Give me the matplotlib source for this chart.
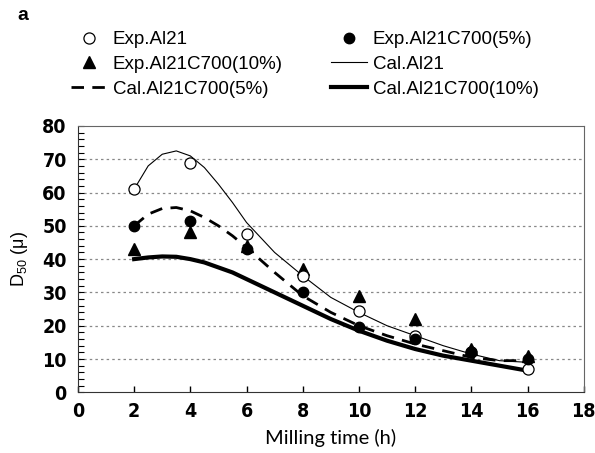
import matplotlib
matplotlib.use("Agg")
import matplotlib.pyplot as plt
from matplotlib.ticker import MultipleLocator

# measured points (milling time in h, D50 in micron)
exp_time = [2, 4, 6, 8, 10, 12, 14, 16]
exp_al21 = [61, 69, 47.5, 35, 24.5, 17, 12, 7]
exp_c700_5 = [50, 51.5, 43, 30, 19.5, 16, 12, 10]
exp_c700_10 = [43, 48, 44, 37, 29, 22, 13, 11]

# calculated curves
cal_time = [2, 2.5, 3, 3.5, 4, 4.5, 5, 5.5, 6, 7, 8, 9, 10, 11, 12, 13, 14, 15, 16]
cal_al21 = [61, 68, 71.5, 72.5, 71, 67.5, 62.5, 57, 51, 42, 35, 28.5, 24, 20, 17, 14, 11.5, 9.5, 9]
cal_c700_5 = [50, 53.5, 55.2, 55.5, 54.5, 52.5, 50, 47, 43.5, 36, 29, 24, 20, 17, 14.5, 12.5, 10.5, 9.5, 9.5]
cal_c700_10 = [40, 40.5, 40.8, 40.7, 40, 39, 37.5, 36, 34, 30, 26, 22, 18.5, 15.5, 13, 11, 9.5, 8, 6.5]

x_ticks = list(range(0, 19, 2))
y_ticks = list(range(0, 81, 10))

plt.rcParams["font.family"] = ["Liberation Sans", "DejaVu Sans"]
plt.rcParams["mathtext.default"] = "regular"

fig = plt.figure(figsize=(5.95, 4.53), dpi=100)
ax = fig.add_axes([0.131, 0.134, 0.850, 0.588])

# legend handles in column-major order (2 columns)
h_exp21, = ax.plot(exp_time, exp_al21, "o", mfc="white", mec="black", ms=8, mew=0.9,
                   label="Exp.Al21", zorder=5)
h_exp10, = ax.plot(exp_time, exp_c700_10, "^", color="black", ms=8,
                   label="Exp.Al21C700(10%)", zorder=4)
h_exp5, = ax.plot(exp_time, exp_c700_5, "o", color="black", ms=7.5,
                  label="Exp.Al21C700(5%)", zorder=6)
h_cal21, = ax.plot(cal_time, cal_al21, "-", color="black", lw=0.8, label="Cal.Al21")
h_cal5, = ax.plot(cal_time, cal_c700_5, color="black", lw=2.0, dashes=(4.5, 3),
                  label="Cal.Al21C700(5%)")
h_cal10, = ax.plot(cal_time, cal_c700_10, "-", color="black", lw=3.0,
                   label="Cal.Al21C700(10%)")

tick_font = {"family": ["DejaVu Sans"], "stretch": "condensed",
             "weight": "bold", "size": 14}
ax.set_xticks(x_ticks)
ax.set_xticklabels([str(t) for t in x_ticks], fontdict=tick_font)
ax.set_yticks(y_ticks)
ax.set_yticklabels([str(t) for t in y_ticks], fontdict=tick_font)
ax.yaxis.set_minor_locator(MultipleLocator(2))
ax.set_xlim(0, 18)
ax.set_ylim(0, 80)

for v in y_ticks[1:-1]:
    ax.axhline(v, color="#888888", lw=0.9, dashes=(2, 2.5), zorder=0)

ax.tick_params(axis="x", direction="in", length=4, width=1, pad=7, top=False)
ax.tick_params(axis="y", which="both", direction="in", length=4, width=0.8, pad=8,
               right=False)

for side in ["top", "right"]:
    ax.spines[side].set_color("#666666")
ax.spines["left"].set_color("#333333")
ax.spines["bottom"].set_color("#333333")

ax.set_xlabel("Milling time (h)", family=["Lato", "DejaVu Sans"], fontsize=14.5, labelpad=6)
ax.set_ylabel("D$_{50}$ (\u03bc)", fontsize=13, labelpad=9)

fig.legend(handles=[h_exp21, h_exp10, h_cal5, h_exp5, h_cal21, h_cal10],
           ncol=2, loc="upper left", bbox_to_anchor=(0.098, 0.96), frameon=False,
           fontsize=13.5, handlelength=1.9, handletextpad=0.3, labelspacing=0.4,
           columnspacing=2.6, borderpad=0.2, numpoints=1)

fig.text(0.03, 0.985, "a", fontsize=14, fontweight="bold", va="top", ha="left")

fig.savefig("out.png", dpi=100)
